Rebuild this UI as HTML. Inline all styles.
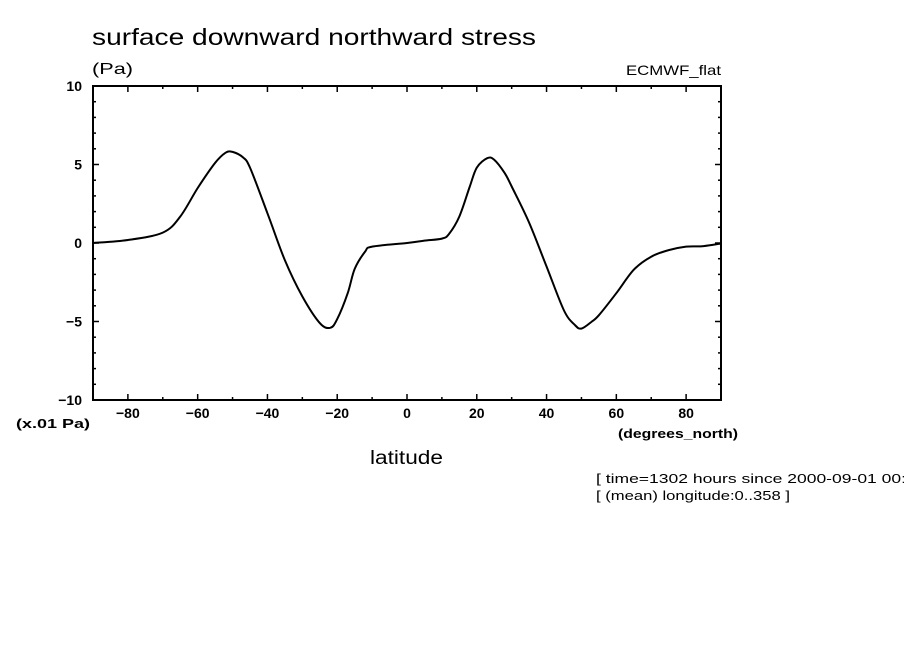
<!DOCTYPE html>
<html><head><meta charset="utf-8"><style>
body{margin:0;background:#fff;}
svg{display:block;font-family:"Liberation Sans",sans-serif;}
</style></head><body>
<svg id="chart" width="904" height="654">
<text x="92" y="45" font-size="23" textLength="444" lengthAdjust="spacingAndGlyphs">surface downward northward stress</text>
<text x="92" y="74" font-size="16" textLength="41" lengthAdjust="spacingAndGlyphs">(Pa)</text>
<text x="626" y="75" font-size="14" textLength="95" lengthAdjust="spacingAndGlyphs">ECMWF_flat</text>
<text x="16" y="428" font-size="13" font-weight="bold" textLength="74" lengthAdjust="spacingAndGlyphs">(x.01 Pa)</text>
<text x="618" y="438" font-size="13" font-weight="bold" textLength="120" lengthAdjust="spacingAndGlyphs">(degrees_north)</text>
<text x="370" y="464" font-size="19" textLength="73" lengthAdjust="spacingAndGlyphs">latitude</text>
<text x="596" y="483" font-size="13" textLength="310" lengthAdjust="spacingAndGlyphs">[ time=1302 hours since 2000-09-01 00:</text>
<text x="596" y="500" font-size="13" textLength="194" lengthAdjust="spacingAndGlyphs">[ (mean) longitude:0..358 ]</text>
<g id="axes"></g>
<path id="line" fill="none" stroke="#000" stroke-width="2"/>
<rect x="93" y="86" width="628" height="314" fill="none" stroke="#000" stroke-width="2"/>
</svg>
<script>
const lats=[-90,-80,-70,-65,-60,-55,-52,-50,-47,-45,-40,-35,-30,-25,-22,-20,-17,-15,-12,-10,0,5,10,12,15,18,20,23,25,28,30,35,40,45,48,50,53,55,60,65,70,75,80,85,90];
const vals=[0,0.19,0.66,1.68,3.5,5.1,5.75,5.8,5.45,4.8,1.9,-1.1,-3.4,-5.1,-5.4,-4.85,-3.2,-1.65,-0.55,-0.23,0,0.15,0.28,0.57,1.68,3.6,4.8,5.4,5.3,4.45,3.6,1.3,-1.5,-4.3,-5.2,-5.45,-5.0,-4.6,-3.2,-1.7,-0.87,-0.45,-0.23,-0.2,-0.03];
const xTicks=[-80,-60,-40,-20,0,20,40,60,80];
const yTicks=[-10,-5,0,5,10];
const X0=93,X1=721,Y0=86,Y1=400;
const sx=v=>X0+(v+90)/180*(X1-X0);
const sy=v=>Y1-(v+10)/20*(Y1-Y0);
const NS="http://www.w3.org/2000/svg";
const g=document.getElementById('axes');
function ln(x1,y1,x2,y2,name){const l=document.createElementNS(NS,'line');l.setAttribute('x1',x1);l.setAttribute('y1',y1);l.setAttribute('x2',x2);l.setAttribute('y2',y2);l.setAttribute('stroke','#000');l.setAttribute('stroke-width','1.5');


g.appendChild(l);}
function tx(x,y,s,anchor,name){const t=document.createElementNS(NS,'text');t.setAttribute('x',x);t.setAttribute('y',y);t.setAttribute('font-size','14');t.setAttribute('font-weight','bold');t.setAttribute('text-anchor',anchor);t.textContent=s;


g.appendChild(t);}
for(let v=-90;v<=90;v+=10){const x=sx(v);const major=(v%20===0);const L=major?6:3;ln(x,Y1,x,Y1-L,'x-tick');ln(x,Y0,x,Y0+L,'x-tick');}
for(let v=-10;v<=10;v+=1){const y=sy(v);const L=(v%5===0)?6:3;ln(X0,y,X0+L,y,'y-tick');ln(X1,y,X1-L,y,'y-tick');}
xTicks.forEach(v=>tx(sx(v),418,String(v).replace('-','\u2212'),'middle','x-tick-label'));
yTicks.forEach(v=>tx(82,sy(v)+5,String(v).replace('-','\u2212'),'end','y-tick-label'));
const pts=lats.map((la,i)=>[sx(la),sy(vals[i])]);
let d='M'+pts[0][0].toFixed(1)+','+pts[0][1].toFixed(1);
for(let i=0;i<pts.length-1;i++){
  const p0=pts[Math.max(0,i-1)],p1=pts[i],p2=pts[i+1],p3=pts[Math.min(pts.length-1,i+2)];
  const c1=[p1[0]+(p2[0]-p0[0])/6,p1[1]+(p2[1]-p0[1])/6];
  const c2=[p2[0]-(p3[0]-p1[0])/6,p2[1]-(p3[1]-p1[1])/6];
  d+='C'+c1[0].toFixed(1)+','+c1[1].toFixed(1)+' '+c2[0].toFixed(1)+','+c2[1].toFixed(1)+' '+p2[0].toFixed(1)+','+p2[1].toFixed(1);
}
document.getElementById('line').setAttribute('d',d);
</script>
</body></html>
